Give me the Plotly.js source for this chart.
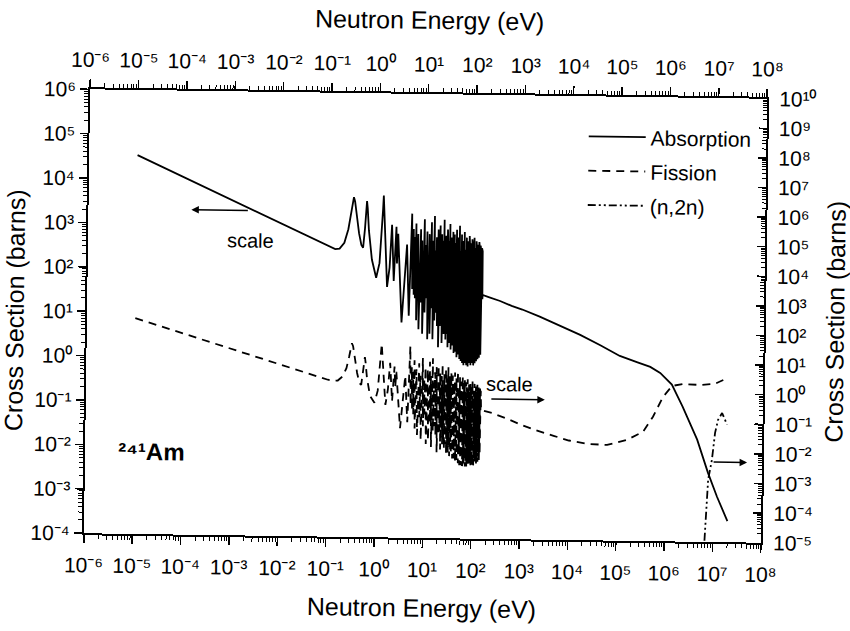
<!DOCTYPE html>
<html><head><meta charset="utf-8">
<script src="https://cdn.plot.ly/plotly-3.0.1.min.js"></script>
<style>html,body{margin:0;padding:0;background:#fff;overflow:hidden}#chart{width:850px;height:631px;transform:rotate(0.8deg);transform-origin:425px 316px}</style>
</head><body><div id="chart"></div>
<script>
// ---- data (energies in eV, cross sections in barns) ----
const absE_low = [1e-5, 1e-4, 1e-3, 1e-2, 0.0253, 0.06, 0.1, 0.13, 0.16, 0.2, 0.24, 0.27, 0.29, 0.307, 0.325, 0.35, 0.40, 0.45, 0.49, 0.53, 0.555, 0.574, 0.595, 0.64, 0.75, 0.93, 1.08, 1.18, 1.24, 1.271, 1.30, 1.38, 1.57, 1.75];
const abs_low = [34000, 10800, 3400, 1080, 680, 440, 340, 300, 310, 420, 850, 1800, 3200, 4500, 3600, 1900, 700, 380, 330, 900, 2200, 3700, 2600, 800, 180, 70, 150, 700, 2500, 5000, 2800, 600, 44, 120];
const fis_low = [195, 62, 19.5, 6.2, 3.9, 2.5, 2.0, 1.85, 1.9, 2.6, 5, 12, 24, 35, 28, 12, 3.5, 1.6, 1.4, 4, 8, 12, 8, 2.5, 0.6, 0.35, 0.9, 5, 18, 35, 20, 4, 0.3, 1.0];

const resE = [1.92, 2.15, 2.37, 2.48, 2.59, 3.2, 3.97, 4.5, 4.97, 5.2,
  5.41, 5.6, 5.78, 5.95, 6.12, 6.4, 6.74, 7.2, 7.66, 7.9,
  8.17, 8.6, 9.11, 9.5, 9.85, 10.1, 10.4, 11.0, 11.6, 12.2,
  12.8, 13.15, 13.5, 14.1, 14.7, 15.2, 15.7, 16.05, 16.4, 16.65,
  16.9, 17.3, 17.7, 18.5, 19.4, 19.85, 20.3, 20.65, 21.0, 21.8,
  22.7, 23.05, 23.4, 23.9, 24.5, 25.0, 25.6, 26.1, 26.6, 27.1,
  27.6, 28.0, 28.4, 29.0, 29.7, 30.3, 30.9, 31.4, 32.0, 32.5,
  33.1, 33.7, 34.4, 35.1, 35.8, 36.4, 37.1, 37.7, 38.3, 38.9,
  39.6, 40.3, 41.0, 41.7, 42.5, 43.2, 44.0, 44.8, 45.6, 46.3,
  47.1, 47.9, 48.8, 49.6, 50.4, 51.3, 52.2, 53.1, 54.0, 54.9,
  55.9, 56.8, 57.8, 58.7, 59.7, 60.6, 61.6, 62.7, 63.8, 64.9,
  66.0, 67.1, 68.2, 69.3, 70.5, 71.7, 72.9, 74.1, 75.4, 76.7,
  78.0, 79.3, 80.6, 81.9, 83.3, 84.7, 86.1, 87.5, 89.0, 90.5,
  92.0, 93.5, 95.1, 96.7, 98.3, 99.9, 101.6, 103.3, 105.0, 106.7,
  108.5, 110.3, 112.2, 114.1, 116.0, 117.9, 119.9, 121.9, 123.9, 126.0,
  128.1, 130.2, 132.4, 134.6, 136.9, 139.2, 141.5, 143.8, 146.2, 148.0];
const resAbs = [1100, 60, 1000, 150, 700, 7, 400, 10, 2000, 40,
  900, 30, 600, 25, 1200, 8, 700, 5, 900, 20,
  500, 4, 1500, 12, 400, 25, 800, 3, 700, 4,
  1300, 15, 500, 3, 1800, 8, 300, 12, 600, 20,
  350, 6, 900, 2, 1100, 6, 400, 9, 700, 2.5,
  500, 10, 1500, 4, 300, 5, 650, 3, 250, 4,
  900, 7, 350, 2, 500, 3, 1200, 2.5, 280, 4,
  600, 1.8, 400, 3, 800, 2.2, 300, 3.5, 700, 1.5,
  450, 2.8, 250, 1.6, 900, 2, 350, 1.2, 600, 2.5,
  280, 1.4, 1100, 1.8, 400, 1.1, 300, 2.2, 700, 1.0,
  350, 1.6, 500, 0.9, 250, 1.5, 800, 0.8, 320, 1.3,
  450, 0.9, 600, 1.4, 280, 0.8, 500, 1.2, 350, 0.75,
  650, 1.3, 300, 0.9, 450, 1.5, 260, 0.8, 550, 1.2,
  380, 0.9, 300, 1.4, 600, 0.8, 350, 1.3, 280, 0.9,
  500, 1.5, 300, 1.0, 420, 1.6, 260, 1.1, 480, 1.7,
  330, 1.2, 400, 1.8, 280, 1.4, 350, 2.0, 300, 25];
const resFis = [8, 0.4, 6, 1.2, 4, 0.05, 3, 0.08, 30, 0.3,
  6, 0.2, 4, 0.15, 10, 0.05, 5, 0.03, 8, 0.12,
  3, 0.02, 12, 0.06, 2.5, 0.15, 6, 0.015, 5, 0.02,
  9, 0.08, 3, 0.012, 12, 0.04, 1.8, 0.06, 4, 0.1,
  2, 0.03, 6, 0.008, 7, 0.03, 2.2, 0.04, 4, 0.01,
  3, 0.05, 8, 0.015, 1.5, 0.02, 3.5, 0.01, 1.2, 0.015,
  5, 0.03, 1.8, 0.007, 2.5, 0.01, 6, 0.008, 1.3, 0.015,
  3, 0.006, 2, 0.01, 4, 0.007, 1.4, 0.012, 3.2, 0.005,
  2, 0.009, 1.1, 0.005, 4, 0.006, 1.6, 0.004, 2.6, 0.008,
  1.2, 0.0045, 4.5, 0.006, 1.7, 0.0035, 1.3, 0.007, 2.8, 0.003,
  1.5, 0.005, 2, 0.003, 1, 0.005, 3, 0.0028, 1.3, 0.004,
  1.8, 0.003, 2.3, 0.0045, 1.1, 0.0027, 1.9, 0.004, 1.3, 0.0026,
  2.4, 0.004, 1.1, 0.003, 1.6, 0.005, 0.9, 0.0028, 2, 0.004,
  1.4, 0.003, 1.1, 0.0045, 2.1, 0.0027, 1.2, 0.004, 1.0, 0.003,
  1.7, 0.005, 1.0, 0.0032, 1.4, 0.005, 0.9, 0.0035, 1.6, 0.0055,
  1.1, 0.004, 1.3, 0.006, 0.9, 0.0045, 1.2, 0.007, 1.0, 0.25];

const absE_high = [150, 200, 345, 600, 1000, 2300, 6200, 1.6e4, 4.2e4, 1.07e5, 2.5e5, 4.6e5, 7.4e5, 1.3e6, 2.2e6, 4.5e6, 7.7e6, 1.2e7, 2e7];
const abs_high = [31, 28, 23, 18, 15, 10.5, 6.6, 4.2, 2.5, 1.45, 1.05, 0.84, 0.62, 0.34, 0.11, 0.02, 3.6e-3, 1.05e-3, 3e-4];
const fisE_high = [150, 250, 500, 1000, 2000, 5000, 1e4, 2.5e4, 6.2e4, 1.6e5, 3.4e5, 5.4e5, 8.6e5, 1.32e6, 2.2e6, 5e6, 1e7, 1.5e7];
const fis_high = [0.22, 0.18, 0.12, 0.075, 0.05, 0.032, 0.023, 0.018, 0.017, 0.026, 0.049, 0.16, 0.76, 1.8, 2.1, 2.0, 2.2, 3.0];

const n2nE = [6.8e6, 7.3e6, 7.8e6, 9.2e6, 1.05e7, 1.2e7, 1.45e7, 1.85e7];
const n2n = [1.1e-5, 2e-4, 1.3e-3, 6e-3, 0.049, 0.135, 0.23, 0.094];

const xTickVals = [1e-6, 1e-5, 1e-4, 1e-3, 1e-2, 1e-1, 1e0, 1e1, 1e2, 1e3, 1e4, 1e5, 1e6, 1e7, 1e8];
const xTickText = ['10⁻⁶', '10⁻⁵', '10⁻⁴', '10⁻³', '10⁻²', '10⁻¹', '10⁰', '10¹', '10²', '10³', '10⁴', '10⁵', '10⁶', '10⁷', '10⁸'];
const yTickVals = [1e-4, 1e-3, 1e-2, 1e-1, 1e0, 1e1, 1e2, 1e3, 1e4, 1e5, 1e6];
const yTickText = ['10⁻⁴', '10⁻³', '10⁻²', '10⁻¹', '10⁰', '10¹', '10²', '10³', '10⁴', '10⁵', '10⁶'];
const y2TickVals = [1e-5, 1e-4, 1e-3, 1e-2, 1e-1, 1e0, 1e1, 1e2, 1e3, 1e4, 1e5, 1e6, 1e7, 1e8, 1e9, 1e10];
const y2TickText = ['10⁻⁵', '10⁻⁴', '10⁻³', '10⁻²', '10⁻¹', '10⁰', '10¹', '10²', '10³', '10⁴', '10⁵', '10⁶', '10⁷', '10⁸', '10⁹', '10¹⁰'];

// ---- build traces ----
const absX = absE_low.concat(resE, absE_high);
const absY = abs_low.concat(resAbs, abs_high);
const fisX = absE_low.concat(resE, fisE_high);
const fisY = fis_low.concat(resFis, fis_high);

function minorVals(lo, hi) {
  const v = [];
  for (let d = lo; d < hi; d++) for (let k = 2; k <= 9; k++) v.push(k * Math.pow(10, d));
  return v;
}

const FONT = 'Liberation Sans, Arial, sans-serif';
const traces = [
  {x: absX, y: absY, xaxis: 'x', yaxis: 'y', type: 'scatter', mode: 'lines', name: 'Absorption',
   legendgroup: 'a', line: {color: '#000', width: 1.8}},
  {x: fisX, y: fisY, xaxis: 'x', yaxis: 'y2', type: 'scatter', mode: 'lines', name: 'Fission',
   legendgroup: 'f', line: {color: '#000', width: 1.8, dash: '8px,6px'}},
  {x: n2nE, y: n2n, xaxis: 'x2', yaxis: 'y2', type: 'scatter', mode: 'lines', name: '(n,2n)',
   legendgroup: 'n', line: {color: '#000', width: 1.8, dash: '8px,3px,2px,3px,2px,3px'}}
];

const baseX = {
  type: 'log', range: [-6, 8], tickmode: 'array', tickvals: xTickVals, ticktext: xTickText,
  showline: true, linewidth: 2, linecolor: '#000', showgrid: false, zeroline: false,
  ticks: 'outside', ticklen: 8, tickwidth: 1.5, tickcolor: '#000', ticklabelstandoff: 4,
  tickfont: {family: FONT, size: 21, color: '#000'},
  minor: {tickmode: 'array', tickvals: minorVals(-6, 8), ticks: 'outside', ticklen: 4, tickwidth: 1, tickcolor: '#000', showgrid: false}
};

const layout = {
  width: 850, height: 631,
  margin: {l: 87, r: 86, t: 94, b: 93},
  paper_bgcolor: '#fff', plot_bgcolor: '#fff',
  font: {family: FONT, color: '#000'},
  showlegend: true,
  legend: {x: 0.73, y: 0.955, xanchor: 'left', yanchor: 'top', bgcolor: 'rgba(0,0,0,0)',
           font: {family: FONT, size: 21, color: '#000'}, itemwidth: 57, tracegroupgap: 4, traceorder: 'grouped'},
  xaxis: Object.assign({}, baseX, {side: 'bottom', anchor: 'y',
    title: {text: 'Neutron Energy (eV)', font: {family: FONT, size: 25, color: '#000'}, standoff: 19}}),
  xaxis2: Object.assign({}, baseX, {side: 'top', overlaying: 'x', anchor: 'y',
    title: {text: 'Neutron Energy (eV)', font: {family: FONT, size: 25, color: '#000'}, standoff: 16}}),
  yaxis: {
    type: 'log', range: [-4, 6], tickmode: 'array', tickvals: yTickVals, ticktext: yTickText,
    showline: true, linewidth: 2, linecolor: '#000', showgrid: false, zeroline: false,
    ticks: 'outside', ticklen: 8, tickwidth: 1.5, tickcolor: '#000',
    tickfont: {family: FONT, size: 21, color: '#000'},
    minor: {tickmode: 'array', tickvals: minorVals(-4, 6), ticks: 'outside', ticklen: 4, tickwidth: 1, tickcolor: '#000', showgrid: false},
    title: {text: 'Cross Section (barns)', font: {family: FONT, size: 25, color: '#000'}, standoff: 2}
  },
  yaxis2: {
    type: 'log', range: [-5, 10], tickmode: 'array', tickvals: y2TickVals, ticktext: y2TickText,
    side: 'right', overlaying: 'y', anchor: 'x',
    showline: true, linewidth: 2, linecolor: '#000', showgrid: false, zeroline: false,
    ticks: 'inside', ticklen: 8, tickwidth: 1.5, tickcolor: '#000', ticklabelstandoff: 6,
    tickfont: {family: FONT, size: 21, color: '#000'},
    minor: {tickmode: 'array', tickvals: minorVals(-5, 10), ticks: 'inside', ticklen: 4, tickwidth: 1, tickcolor: '#000', showgrid: false},
    title: {text: 'Cross Section (barns)', font: {family: FONT, size: 25, color: '#000'}, standoff: 12}
  },
  annotations: [
    {xref: 'paper', yref: 'paper', x: 0.152, y: 0.732, ax: 58, ay: 0, text: '', showarrow: true,
     arrowhead: 2, arrowsize: 1, arrowwidth: 1.5, arrowcolor: '#000'},
    {xref: 'paper', yref: 'paper', x: 0.202, y: 0.694, text: 'scale', showarrow: false,
     font: {family: FONT, size: 20, color: '#000'}},
    {xref: 'paper', yref: 'paper', x: 0.678, y: 0.315, ax: -55, ay: 0, text: '', showarrow: true,
     arrowhead: 2, arrowsize: 1, arrowwidth: 1.5, arrowcolor: '#000'},
    {xref: 'paper', yref: 'paper', x: 0.626, y: 0.348, text: 'scale', showarrow: false,
     font: {family: FONT, size: 20, color: '#000'}},
    {xref: 'paper', yref: 'paper', x: 0.978, y: 0.18, ax: -35, ay: 0, text: '', showarrow: true,
     arrowhead: 2, arrowsize: 1, arrowwidth: 1.5, arrowcolor: '#000'},
    {xref: 'paper', yref: 'paper', x: 0.046, y: 0.152, xanchor: 'left', text: '²⁴¹Am', showarrow: false,
     font: {family: FONT, size: 24, color: '#000', weight: 'bold'}}
  ]
};

Plotly.newPlot('chart', traces, layout, {staticPlot: true, displayModeBar: false});
</script></body></html>
